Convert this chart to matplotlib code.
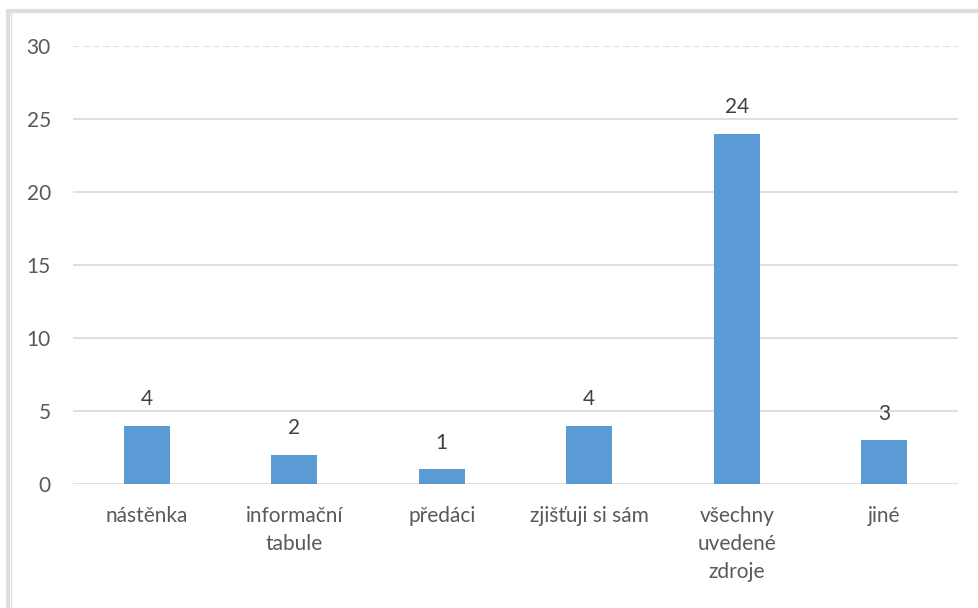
import matplotlib
matplotlib.use("Agg")
import matplotlib.pyplot as plt
from matplotlib.patches import Rectangle

kategorie = ["nástěnka", "informační\ntabule", "předáci", "zjišťuji si sám",
             "všechny\nuvedené\nzdroje", "jiné"]
hodnoty = [4, 2, 1, 4, 24, 3]
y_ticks = [0, 5, 10, 15, 20, 25, 30]

plt.rcParams['font.family'] = ['Lato', 'DejaVu Sans']

fig = plt.figure(figsize=(9.79, 6.08), dpi=100)
fig.patch.set_facecolor("white")

# ramecek grafu se stinem vlevo
fig.add_artist(Rectangle((0.008, -0.01), 1.1, 0.992, transform=fig.transFigure,
                         fill=False, edgecolor="#c8c8c8", linewidth=3, alpha=0.6))
fig.add_artist(Rectangle((0.011, -0.01), 1.1, 0.991, transform=fig.transFigure,
                         fill=False, edgecolor="#e0e0e0", linewidth=1))

ax = fig.add_axes([0.0746, 0.204, 0.904, 0.72])
x = range(len(kategorie))
bars = ax.bar(x, hodnoty, width=0.31, color="#5b9bd5", zorder=3)

ax.set_ylim(0, 30)
ax.set_xlim(-0.5, len(kategorie) - 0.5)
ax.set_yticks(y_ticks)
ax.set_xticks(list(x))
ax.set_xticklabels(kategorie, fontsize=15, color="#595959", linespacing=1.5)
ax.tick_params(axis="y", labelsize=15, labelcolor="#595959", length=0, pad=16)
ax.tick_params(axis="x", length=0, pad=16)

for t in y_ticks:
    ls = (0, (4, 2)) if t == 30 else "-"
    ax.axhline(t, color="#d9d9d9", linewidth=1.2, linestyle=ls, zorder=1)

for b, v in zip(bars, hodnoty):
    ax.annotate(str(v), (b.get_x() + b.get_width() / 2, v), xytext=(0, 12),
                textcoords="offset points", ha="center", va="bottom",
                fontsize=15, color="#404040")

for s in ax.spines.values():
    s.set_visible(False)

fig.savefig("out.png", dpi=100)
